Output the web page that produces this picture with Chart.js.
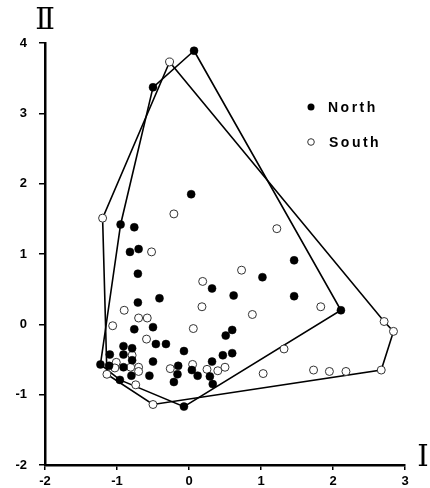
<!DOCTYPE html>
<html>
<head>
<meta charset="utf-8">
<script src="https://cdn.jsdelivr.net/npm/chart.js@4/dist/chart.umd.min.js"></script>
<style>
html,body{margin:0;padding:0;background:#fff;}
#wrap{width:430px;height:488px;position:relative;}
</style>
</head>
<body>
<div id="wrap"><canvas id="c" width="430" height="488"></canvas></div>
<script>
// ---- data ----
const seriesNames = ['North', 'South'];
const axisTitles = ['Ⅰ', 'Ⅱ'];

const northX = [0.07,-0.50,0.03,-0.95,-0.76,-0.82,-0.70,-0.71,-0.71,-0.41,-0.76,-0.50,-0.46,-0.32,-0.91,-0.79,-1.10,-0.91,-0.79,-0.50,-0.07,-1.23,-1.11,-0.91,-0.80,-0.55,-0.96,-0.15,-0.16,-0.21,0.04,0.12,0.29,0.32,0.33,-0.07,0.32,1.46,1.02,1.46,0.62,0.60,0.51,0.60,0.47,2.11];
const northY = [3.89,3.37,1.85,1.42,1.38,1.03,1.07,0.72,0.31,0.37,-0.07,-0.04,-0.28,-0.28,-0.31,-0.34,-0.43,-0.43,-0.51,-0.53,-0.38,-0.57,-0.59,-0.61,-0.73,-0.73,-0.79,-0.59,-0.71,-0.82,-0.65,-0.73,-0.74,-0.53,-0.85,-1.17,0.51,0.91,0.67,0.40,0.41,-0.08,-0.16,-0.41,-0.44,0.20];

const southX = [-0.27,-0.21,-1.20,-0.52,1.22,0.19,0.73,0.18,-0.90,-0.70,-0.58,-1.06,0.06,0.88,1.83,-0.59,-0.79,-1.01,-1.03,-0.81,-0.70,-0.70,-0.26,0.05,0.25,-1.14,-0.74,-0.50,1.32,0.50,0.40,1.03,1.73,1.95,2.18,2.71,2.84,2.67];
const southY = [3.73,1.57,1.51,1.03,1.36,0.61,0.77,0.25,0.20,0.09,0.09,-0.02,-0.06,0.14,0.25,-0.21,-0.44,-0.54,-0.62,-0.61,-0.61,-0.67,-0.63,-0.57,-0.64,-0.71,-0.86,-1.14,-0.35,-0.61,-0.66,-0.70,-0.65,-0.67,-0.67,0.04,-0.10,-0.65];

// convex hull outlines (vertices are data points)
const northHullX = [0.07,2.11,-0.07,-0.96,-1.23,-0.95,-0.50,0.07];
const northHullY = [3.89,0.20,-1.17,-0.79,-0.57,1.42,3.37,3.89];
const southHullX = [-0.27,2.71,2.84,2.67,-0.50,-1.14,-1.20,-0.27];
const southHullY = [3.73,0.04,-0.10,-0.65,-1.14,-0.71,1.51,3.73];

const xTicks = [-2,-1,0,1,2,3];
const xTickLabels = ['-2','-1','0','1','2','3'];
const yTicks = [-2,-1,0,1,2,3,4];
const yTickLabels = ['-2','-1','0','1','2','3','4'];

const pts = (xs, ys) => xs.map((x, i) => ({x: x, y: ys[i]}));

const overlay = {
  id: 'overlay',
  beforeDraw(chart) {
    const ctx = chart.ctx;
    ctx.save();
    ctx.fillStyle = '#fff';
    ctx.fillRect(0, 0, chart.width, chart.height);
    ctx.restore();
  },
  afterDraw(chart) {
    const ctx = chart.ctx;
    const ys = chart.scales.y;
    ctx.save();
    // axis titles
    ctx.fillStyle = '#000';
    ctx.font = '29px "DejaVu Serif", "Liberation Serif", serif';
    ctx.textAlign = 'center';
    ctx.textBaseline = 'middle';
    ctx.fillText(axisTitles[1], ys.right, 21);
    ctx.fillText(axisTitles[0], 423, 458);
    // legend
    ctx.font = 'bold 14px "Liberation Sans", Arial, sans-serif';
    try { ctx.letterSpacing = '2.5px'; } catch (e) {}
    ctx.textAlign = 'left';
    const lx = 311, ly = [107, 142];
    ctx.beginPath();
    ctx.arc(lx, ly[0], 3.5, 0, Math.PI * 2);
    ctx.fillStyle = '#000';
    ctx.fill();
    ctx.fillText(seriesNames[0], 328, ly[0] + 1);
    ctx.beginPath();
    ctx.arc(lx, ly[1], 3.3, 0, Math.PI * 2);
    ctx.lineWidth = 1;
    ctx.strokeStyle = '#333';
    ctx.stroke();
    ctx.fillText(seriesNames[1], 329, ly[1] + 1);
    ctx.restore();
  }
};

new Chart(document.getElementById('c'), {
  type: 'scatter',
  data: {
    datasets: [
      { label: seriesNames[0] + ' hull', data: pts(northHullX, northHullY), showLine: true, fill: false,
        borderColor: '#000', borderWidth: 1.6, pointRadius: 0, tension: 0, order: 2 },
      { label: seriesNames[1] + ' hull', data: pts(southHullX, southHullY), showLine: true, fill: false,
        borderColor: '#000', borderWidth: 1.6, pointRadius: 0, tension: 0, order: 2 },
      { label: seriesNames[0], data: pts(northX, northY), pointRadius: 4, pointBackgroundColor: '#000',
        pointBorderColor: '#000', pointBorderWidth: 0.5, order: 0 },
      { label: seriesNames[1], data: pts(southX, southY), pointRadius: 4, pointBackgroundColor: '#fff',
        pointBorderColor: '#333', pointBorderWidth: 1, order: 1 }
    ]
  },
  options: {
    responsive: false,
    animation: false,
    devicePixelRatio: 1,
    layout: { padding: { top: 43, right: 25, left: 0, bottom: 0 } },
    plugins: { legend: { display: false }, tooltip: { enabled: false } },
    scales: {
      x: {
        type: 'linear', min: -2, max: 3,
        afterFit(s) { s.height = 23; },
        afterBuildTicks(s) { s.ticks = xTicks.map(v => ({value: v})); },
        ticks: { callback: v => xTickLabels[xTicks.indexOf(v)], color: '#000', padding: 4,
                 font: { family: '"Liberation Sans", Arial, sans-serif', size: 13, weight: 'bold' } },
        grid: { drawOnChartArea: false, drawTicks: true, tickLength: 5, color: '#000', lineWidth: 1.5 },
        border: { display: true, color: '#000', width: 2.5 }
      },
      y: {
        type: 'linear', min: -2, max: 4,
        afterFit(s) { s.width = 45; },
        afterBuildTicks(s) { s.ticks = yTicks.map(v => ({value: v})); },
        ticks: { callback: v => yTickLabels[yTicks.indexOf(v)], color: '#000', padding: 12,
                 font: { family: '"Liberation Sans", Arial, sans-serif', size: 13, weight: 'bold' } },
        grid: { drawOnChartArea: false, drawTicks: true, tickLength: 6, color: '#000', lineWidth: 1.5 },
        border: { display: true, color: '#000', width: 2.5 }
      }
    }
  },
  plugins: [overlay]
});
</script>
</body>
</html>
